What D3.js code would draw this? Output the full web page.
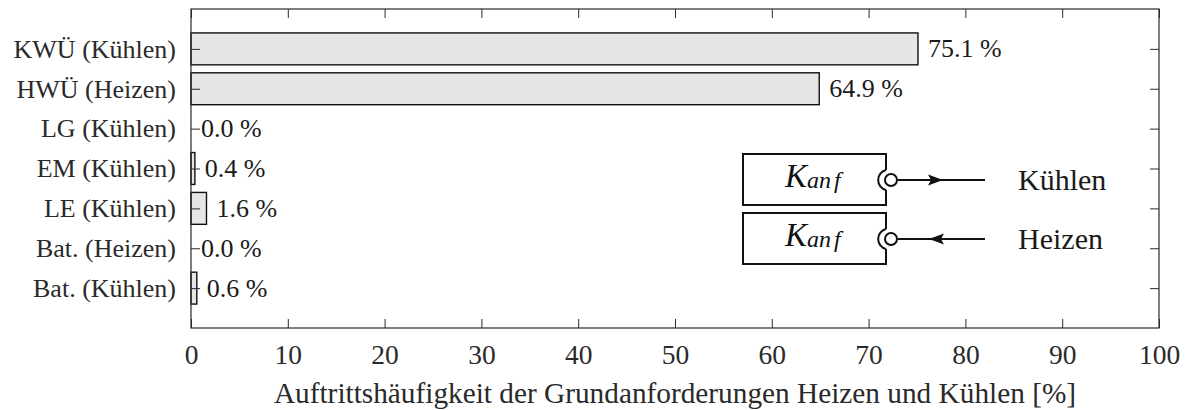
<!DOCTYPE html>
<html>
<head>
<meta charset="utf-8">
<script src="https://cdn.jsdelivr.net/npm/d3@7"></script>
<style>
  html, body { margin: 0; padding: 0; background: #fff; }
  svg { display: block; }
  text { font-family: "Liberation Serif", "Times New Roman", serif; }
</style>
</head>
<body>
<svg id="chart" width="1187" height="410"></svg>
<script>
// Kategorien und Häufigkeiten (in %)
const categories = ["KWÜ (Kühlen)", "HWÜ (Heizen)", "LG (Kühlen)", "EM (Kühlen)", "LE (Kühlen)", "Bat. (Heizen)", "Bat. (Kühlen)"];
const values = [75.1, 64.9, 0.0, 0.4, 1.6, 0.0, 0.6];
const xTicks = [0, 10, 20, 30, 40, 50, 60, 70, 80, 90, 100];
const xTitle = "Auftrittshäufigkeit der Grundanforderungen Heizen und Kühlen [%]";
const legendItems = [
  { label: "Kühlen", dir: "out" },
  { label: "Heizen", dir: "in" }
];

const svg = d3.select("#chart");
const plotL = 191, plotR = 1159, plotT = 9, plotB = 328;
const axisColor = "#2a2a2a";
const serif = '"Liberation Serif", "Times New Roman", serif';
const fs = 26;

const x = d3.scaleLinear().domain([0, 100]).range([plotL, plotR]);
const y = d3.scaleLinear().domain([0, categories.length + 1]).range([plotT, plotB]);
const step = y(1) - y(0);
const barH = step * 0.8;

// Balken
svg.append("g").selectAll("rect")
  .data(values)
  .join("rect")
  .attr("x", x(0))
  .attr("y", (d, i) => y(i + 1) - barH / 2)
  .attr("width", d => x(d) - x(0))
  .attr("height", barH)
  .attr("fill", "#e6e6e6")
  .attr("stroke", "#111")
  .attr("stroke-width", 1.4);

// Achsen (Ticks nach innen)
const catPos = categories.map((c, i) => i + 1);
const fmtCat = (d) => categories[d - 1];

function styleAxis(size) {
  return (g) => {
    g.attr("font-family", serif).attr("font-size", size);
    g.select(".domain").remove();
    g.selectAll("line").attr("stroke", axisColor).attr("stroke-width", 1);
    g.selectAll("text").attr("fill", axisColor);
  };
}

svg.append("g").attr("transform", `translate(0,${plotB})`)
  .call(d3.axisBottom(x).tickValues(xTicks).tickSize(-9).tickPadding(16).tickFormat(d3.format("d")))
  .call(styleAxis(27.5));
svg.append("g").attr("transform", `translate(0,${plotT})`)
  .call(d3.axisTop(x).tickValues(xTicks).tickSize(-9).tickFormat(""))
  .call(styleAxis(fs));
svg.append("g").attr("transform", `translate(${plotL},0)`)
  .call(d3.axisLeft(y).tickValues(catPos).tickSize(-9).tickPadding(15).tickFormat(fmtCat))
  .call(styleAxis(fs));
svg.append("g").attr("transform", `translate(${plotR},0)`)
  .call(d3.axisRight(y).tickValues(catPos).tickSize(-9).tickFormat(""))
  .call(styleAxis(fs));

// Rahmen
svg.append("rect")
  .attr("x", plotL).attr("y", plotT)
  .attr("width", plotR - plotL).attr("height", plotB - plotT)
  .attr("fill", "none").attr("stroke", axisColor).attr("stroke-width", 1.2);

// Wertebeschriftungen
svg.append("g").attr("font-family", serif).attr("font-size", fs)
  .selectAll("text")
  .data(values)
  .join("text")
  .attr("x", d => x(d) + 10)
  .attr("y", (d, i) => y(i + 1))
  .attr("dy", "0.33em")
  .attr("fill", "#1a1a1a")
  .text(d => d.toFixed(1) + " %");

// Achsentitel
svg.append("text")
  .attr("x", (plotL + plotR) / 2)
  .attr("y", 403)
  .attr("text-anchor", "middle")
  .attr("fill", axisColor)
  .attr("font-family", serif)
  .attr("font-size", 29.3)
  .text(xTitle);

// Legende: Komponenten-Symbol mit Schnittstelle und Pfeil
const boxL = 743, boxR = 886, boxH = 51;
const boxTops = [154, 213];
const lineEnd = 985;
const leg = svg.append("g").attr("font-family", serif);

legendItems.forEach((item, k) => {
  const t = boxTops[k];
  const cy = t + boxH / 2 + 0.5;
  const g = leg.append("g");
  // Rechteck mit Lücke am rechten Rand
  g.append("path")
    .attr("d", `M${boxR},${cy - 10} L${boxR},${t} L${boxL},${t} L${boxL},${t + boxH} L${boxR},${t + boxH} L${boxR},${cy + 10}`)
    .attr("fill", "none").attr("stroke", "#111").attr("stroke-width", 2);
  // Buchse
  g.append("path")
    .attr("d", `M${boxR},${cy - 10} A10.3,10.3 0 0 0 ${boxR},${cy + 10}`)
    .attr("fill", "none").attr("stroke", "#111").attr("stroke-width", 2);
  // Linie
  g.append("line")
    .attr("x1", boxR + 12).attr("x2", lineEnd)
    .attr("y1", cy).attr("y2", cy)
    .attr("stroke", "#111").attr("stroke-width", 2);
  // Kugel
  g.append("circle")
    .attr("cx", boxR + 5).attr("cy", cy).attr("r", 6)
    .attr("fill", "#fff").attr("stroke", "#111").attr("stroke-width", 2);
  // Pfeilspitze
  const arrow = item.dir === "out"
    ? `M943,${cy} L928,${cy - 5.5} L931,${cy} L928,${cy + 5.5} Z`
    : `M929,${cy} L944,${cy - 5.5} L941,${cy} L944,${cy + 5.5} Z`;
  g.append("path").attr("d", arrow).attr("fill", "#111");
  // K_anf
  const kt = g.append("text")
    .attr("x", 785).attr("y", cy + 7)
    .attr("fill", "#111")
    .style("font-style", "italic")
    .attr("font-size", 33);
  kt.append("tspan").text("K");
  kt.append("tspan").attr("dy", 1).attr("font-size", 24).text("an");
  kt.append("tspan").attr("dx", 3).attr("font-size", 24).text("f");
  // Beschriftung
  g.append("text")
    .attr("x", 1018).attr("y", cy)
    .attr("dy", "0.33em")
    .attr("fill", "#1a1a1a")
    .attr("font-size", 30)
    .text(item.label);
});
</script>
</body>
</html>
